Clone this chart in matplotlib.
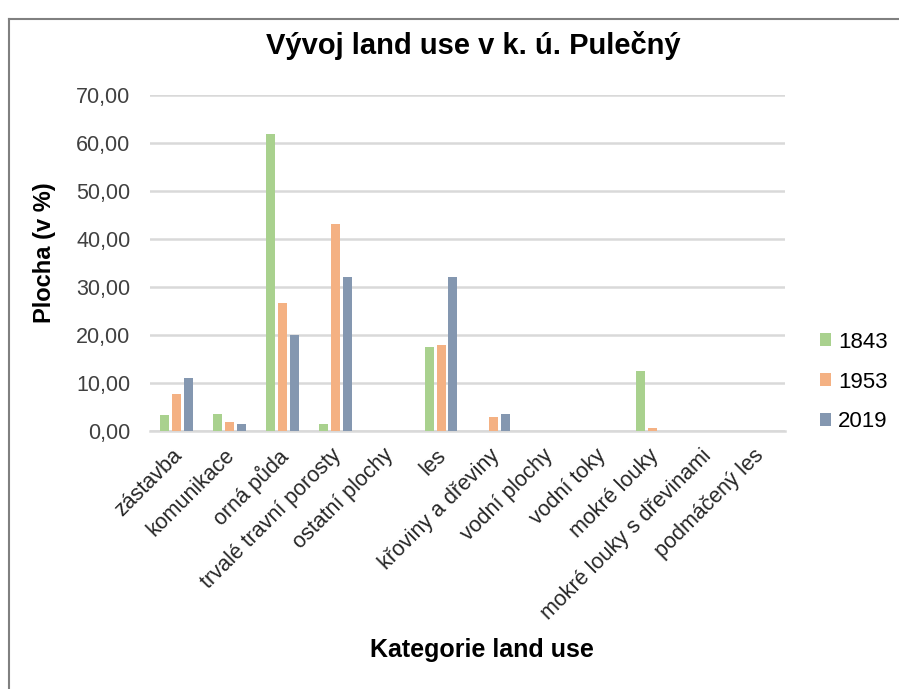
import matplotlib
matplotlib.use("Agg")
import matplotlib.pyplot as plt
import numpy as np
from matplotlib.lines import Line2D
from matplotlib.transforms import ScaledTranslation

categories = ["zástavba", "komunikace", "orná půda", "trvalé travní porosty",
              "ostatní plochy", "les", "křoviny a dřeviny", "vodní plochy",
              "vodní toky", "mokré louky", "mokré louky s dřevinami", "podmáčený les"]
v1843 = [3.3, 3.5, 61.8, 1.4, 0.0, 17.6, 0.0, 0.0, 0.0, 12.5, 0.0, 0.0]
v1953 = [7.7, 1.9, 26.6, 43.2, 0.0, 17.9, 2.9, 0.0, 0.0, 0.6, 0.0, 0.0]
v2019 = [11.0, 1.4, 20.1, 32.1, 0.0, 32.1, 3.6, 0.0, 0.0, 0.0, 0.0, 0.0]
series = [("1843", v1843, "#A9D18E"), ("1953", v1953, "#F4B183"), ("2019", v2019, "#8497B0")]
yticks = [0, 10, 20, 30, 40, 50, 60, 70]

plt.rcParams['font.family'] = ['Liberation Sans', 'DejaVu Sans']

fig = plt.figure(figsize=(8.99, 6.89), dpi=100)
ax = fig.add_axes([150/899, 1-431/689, 635/899, 336/689])

x = np.arange(len(categories))
step = 0.225
width = 0.17
for i, (name, vals, col) in enumerate(series):
    ax.bar(x + (i-1)*step, vals, width=width, color=col, label=name, zorder=3)

ax.set_xlim(-0.5, len(categories)-0.5)
ax.set_ylim(0, 70)
ax.set_yticks(yticks)
ax.set_yticklabels([f"{t:.2f}".replace(".", ",") for t in yticks], fontsize=15.5, color="#404040")
ax.yaxis.grid(True, color="#D9D9D9", linewidth=1.8, zorder=0)
ax.set_axisbelow(True)
for s in ["top", "right", "left"]:
    ax.spines[s].set_visible(False)
ax.spines["bottom"].set_color("#D9D9D9")
ax.spines["bottom"].set_linewidth(1.8)
ax.tick_params(axis="y", length=0, pad=14)
ax.tick_params(axis="x", length=0, pad=10)
ax.set_xticks(x)
ax.set_xticklabels(categories, rotation=45, ha="right", rotation_mode="anchor",
                   fontsize=15.5, color="#262626")
offset = ScaledTranslation(-5/100, 0, fig.dpi_scale_trans)
for lab in ax.get_xticklabels():
    lab.set_transform(lab.get_transform() + offset)

fig.text(45/899, 1-253/689, "Plocha (v %)", fontsize=17, fontweight="bold",
         rotation=90, ha="center", va="center")
fig.text(482/899, 1-650/689, "Kategorie land use", fontsize=18, fontweight="bold",
         ha="center", va="center")
fig.text(473/899, 1-45/689, "Vývoj land use v k. ú. Pulečný", fontsize=21,
         fontweight="bold", ha="center", va="center")

handles, labels = ax.get_legend_handles_labels()
fig.legend(handles, labels, loc="center left", bbox_to_anchor=(800/899, 1-382/689),
           frameon=False, fontsize=16, handlelength=0.5, handleheight=0.5,
           handletextpad=0.3, labelspacing=0.85)

fig.add_artist(Line2D([9/899, 9/899], [0, 1-19/689], transform=fig.transFigure,
                      color="#808080", linewidth=1.5))
fig.add_artist(Line2D([9/899, 1], [1-19/689, 1-19/689], transform=fig.transFigure,
                      color="#808080", linewidth=1.5))

fig.savefig("out.png", dpi=100)
